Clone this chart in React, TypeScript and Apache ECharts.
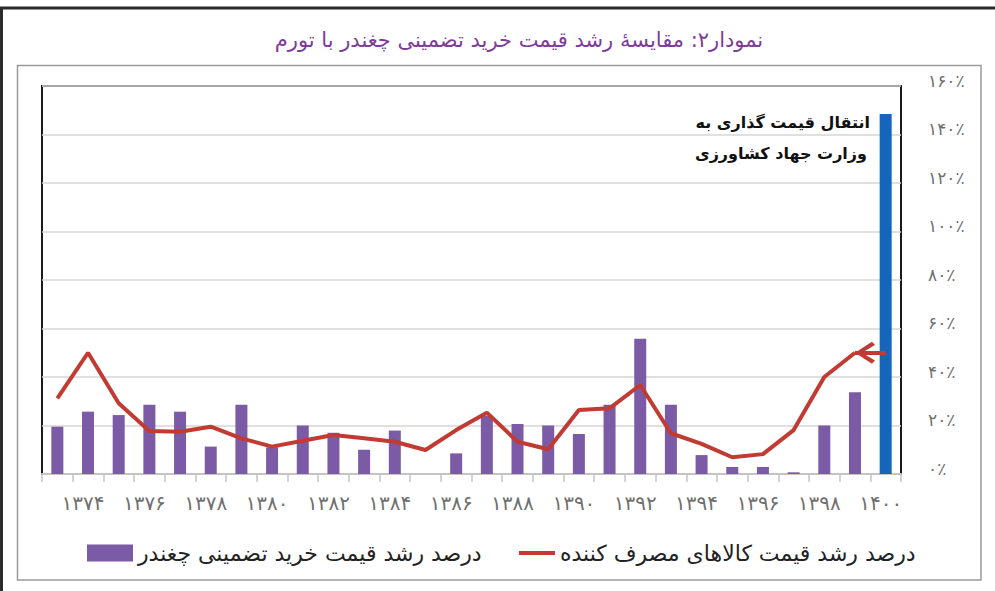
import React, { useEffect, useRef } from "react";
import * as echarts from "echarts";

const categories = [
  "۱۳۷۳", "۱۳۷۴", "۱۳۷۵", "۱۳۷۶", "۱۳۷۷", "۱۳۷۸", "۱۳۷۹", "۱۳۸۰", "۱۳۸۱", "۱۳۸۲",
  "۱۳۸۳", "۱۳۸۴", "۱۳۸۵", "۱۳۸۶", "۱۳۸۷", "۱۳۸۸", "۱۳۸۹", "۱۳۹۰", "۱۳۹۱", "۱۳۹۲",
  "۱۳۹۳", "۱۳۹۴", "۱۳۹۵", "۱۳۹۶", "۱۳۹۷", "۱۳۹۸", "۱۳۹۹", "۱۴۰۰",
];

// درصد رشد قیمت خرید تضمینی چغندر
const beetValues = [
  19.5, 25.7, 24.3, 28.6, 25.7, 11.3, 28.6, 11, 20, 17,
  10, 17.9, null, 8.5, 24, 20.6, 20, 16.5, 28.6, 55.8,
  28.6, 7.8, 2.9, 2.9, 0.7, 20, 33.7, 148.5,
];

// درصد رشد قیمت کالاهای مصرف کننده
const cpiValues = [
  31.2, 50, 29.2, 17.7, 17.4, 19.5, 14.7, 11.3, 13.7, 16.1,
  14.7, 13.3, 9.9, 18.1, 25.3, 13.3, 10.2, 26.4, 27.1, 36.7,
  16.8, 12.4, 6.9, 8.2, 18.1, 40, 50, null,
];

const yTickLabels = ["۰٪", "۲۰٪", "۴۰٪", "۶۰٪", "۸۰٪", "۱۰۰٪", "۱۲۰٪", "۱۴۰٪", "۱۶۰٪"];

const arrowFrom = { category: "۱۴۰۰", value: 50 };
const arrowTo = { category: "۱۳۹۹", value: 50 };

const titleText = "نمودار۲: مقایسهٔ رشد قیمت خرید تضمینی چغندر با تورم";
const noteLines = ["انتقال قیمت گذاری به", "وزارت جهاد کشاورزی"];
const beetName = "درصد رشد قیمت خرید تضمینی چغندر";
const cpiName = "درصد رشد قیمت کالاهای مصرف کننده";

const FONT = '"DejaVu Sans", sans-serif';
const PURPLE = "#7B5BA6";
const BLUE = "#1565B8";
const RED = "#C23B33";

export default function App() {
  const ref = useRef<HTMLDivElement>(null);

  useEffect(() => {
    if (!ref.current) return;
    document.body.style.margin = "0";
    const chart = echarts.init(ref.current, undefined, { renderer: "svg" });
    const last = beetValues.length - 1;
    chart.setOption({
      animation: false,
      backgroundColor: "#ffffff",
      grid: {
        left: 42,
        right: 94,
        top: 86,
        bottom: 117,
        show: true,
        borderColor: "#1a1a1a",
        borderWidth: 2,
        backgroundColor: "transparent",
      },
      legend: [
        {
          data: [beetName],
          left: 82,
          top: 537,
          icon: "rect",
          itemWidth: 46,
          itemHeight: 17,
          textStyle: { fontFamily: FONT, fontSize: 22, color: "#222" },
        },
        {
          data: [cpiName],
          left: 514,
          top: 537,
          icon: "rect",
          itemWidth: 36,
          itemHeight: 4,
          textStyle: { fontFamily: FONT, fontSize: 22, color: "#222" },
        },
      ],
      xAxis: {
        type: "category",
        data: categories,
        boundaryGap: true,
        axisLine: { show: true, lineStyle: { color: "#c4c4c4", width: 2 } },
        axisTick: { show: true, interval: 0, length: 8, lineStyle: { color: "#c4c4c4", width: 1.5 } },
        axisLabel: {
          interval: (index: number) => index % 2 === 1,
          margin: 19,
          color: "#6f6f6f",
          fontFamily: FONT,
          fontSize: 20,
          padding: [0, 10, 0, 0],
        },
        splitLine: { show: false },
      },
      yAxis: {
        type: "value",
        position: "right",
        min: 0,
        max: 160,
        interval: 20,
        axisLine: { show: false },
        axisTick: { show: false },
        axisLabel: {
          margin: 27,
          color: "#6f6f6f",
          fontFamily: FONT,
          fontSize: 17,
          verticalAlign: "bottom",
          lineHeight: 11,
          formatter: (v: number) => yTickLabels[Math.round(v / 20)],
        },
        splitLine: { lineStyle: { color: "#d6d6d6", width: 1.5 } },
      },
      series: [
        {
          name: beetName,
          type: "bar",
          barWidth: 12,
          itemStyle: { color: PURPLE },
          data: beetValues.map((v, i) =>
            i === last ? { value: v, itemStyle: { color: BLUE } } : v
          ),
          z: 2,
        },
        {
          name: cpiName,
          type: "line",
          symbol: "none",
          lineStyle: { color: RED, width: 4 },
          itemStyle: { color: RED },
          data: cpiValues,
          z: 3,
          markLine: {
            silent: true,
            symbol: [
              "none",
              "path://M10,-20 M10,0 L20,17 L17,20 L10,7 L3,20 L0,17 Z",
            ],
            symbolSize: [22, 40],
            label: { show: false },
            lineStyle: { color: RED, width: 4, type: "solid" },
            emphasis: { disabled: true },
            data: [
              [
                { coord: [arrowFrom.category, arrowFrom.value] },
                { coord: [arrowTo.category, arrowTo.value] },
              ],
            ],
          },
        },
      ],
      graphic: [
        {
          type: "rect",
          z: -10,
          silent: true,
          shape: { x: 1.5, y: 8, width: 1100, height: 700 },
          style: { fill: "none", stroke: "#2b2b2b", lineWidth: 3 },
        },
        {
          type: "rect",
          z: -10,
          silent: true,
          shape: { x: 17.5, y: 65.5, width: 963.5, height: 514.5 },
          style: { fill: "none", stroke: "#9a9a9a", lineWidth: 1.5 },
        },
        {
          type: "text",
          x: 519,
          y: 40,
          silent: true,
          style: {
            text: titleText,
            fill: "#7D3C98",
            font: `21px ${FONT}`,
            textAlign: "center",
            textVerticalAlign: "middle",
          },
        },
        {
          type: "text",
          x: 870,
          y: 122,
          silent: true,
          style: {
            text: noteLines[0],
            fill: "#111",
            font: `bold 16px ${FONT}`,
            textAlign: "right",
            textVerticalAlign: "middle",
          },
        },
        {
          type: "text",
          x: 867,
          y: 153,
          silent: true,
          style: {
            text: noteLines[1],
            fill: "#111",
            font: `bold 16px ${FONT}`,
            textAlign: "right",
            textVerticalAlign: "middle",
          },
        },
      ],
    });
    return () => chart.dispose();
  }, []);

  return (
    <div
      ref={ref}
      style={{ position: "absolute", left: 0, top: 0, width: 995, height: 591 }}
    />
  );
}
